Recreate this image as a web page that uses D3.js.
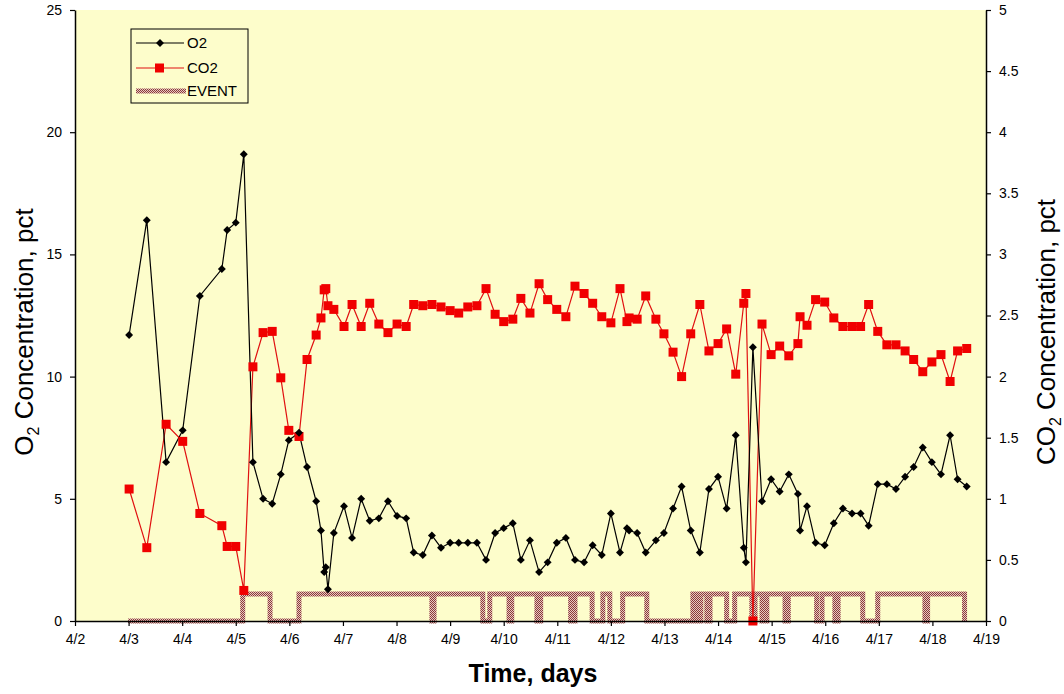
<!DOCTYPE html>
<html>
<head>
<meta charset="utf-8">
<script src="https://cdn.jsdelivr.net/npm/d3@7"></script>
<style>
  body { margin: 0; background: #ffffff; }
  svg { display: block; }
  text { font-family: "Liberation Sans", Arial, sans-serif; }
</style>
</head>
<body>
<svg id="chart" width="1064" height="694"></svg>
<script>
// ---------------- DATA ----------------
// time in April day-of-month (fractional)
const times = [3.01,3.34,3.70,4.01,4.33,4.74,4.84,5.00,5.15,5.32,5.51,5.68,5.84,5.99,6.18,6.33,6.50,6.59,6.65,6.68,6.72,6.83,
  7.02,7.17,7.34,7.50,7.67,7.84,8.01,8.18,8.32,8.49,8.66,8.83,9.00,9.16,9.33,9.50,9.67,9.84,10.00,10.17,10.32,10.49,10.66,10.82,
  10.99,11.16,11.33,11.50,11.66,11.83,12.00,12.17,12.30,12.34,12.49,12.65,12.84,12.99,13.16,13.32,13.49,13.66,13.83,14.00,14.16,
  14.33,14.48,14.52,14.65,14.82,14.99,15.15,15.32,15.49,15.53,15.66,15.82,15.99,16.16,16.33,16.50,16.66,16.81,16.98,17.15,17.32,
  17.49,17.65,17.82,17.99,18.16,18.33,18.47,18.64];
const o2 = [11.7,16.4,6.5,7.8,13.3,14.4,16.0,16.3,19.1,6.5,5.0,4.8,6.0,7.4,7.7,6.3,4.9,3.7,2.0,2.2,1.3,3.6,
  4.7,3.4,5.0,4.1,4.2,4.9,4.3,4.2,2.8,2.7,3.5,3.0,3.2,3.2,3.2,3.2,2.5,3.6,3.8,4.0,2.5,3.3,2.0,2.4,
  3.2,3.4,2.5,2.4,3.1,2.7,4.4,2.8,3.8,3.7,3.6,2.8,3.3,3.6,4.6,5.5,3.7,2.8,5.4,5.9,4.6,
  7.6,3.0,2.4,11.2,4.9,5.8,5.3,6.0,5.2,3.7,4.7,3.2,3.1,4.0,4.6,4.4,4.4,3.9,5.6,5.6,5.4,
  5.9,6.3,7.1,6.5,6.0,7.6,5.8,5.5];
const co2 = [1.08,0.60,1.61,1.47,0.88,0.78,0.61,0.61,0.25,2.08,2.36,2.37,1.99,1.56,1.51,2.14,2.34,2.48,2.71,2.72,2.58,2.55,
  2.41,2.59,2.41,2.60,2.43,2.36,2.43,2.41,2.59,2.58,2.59,2.57,2.54,2.52,2.57,2.58,2.72,2.51,2.45,2.47,2.64,2.52,2.76,2.63,
  2.55,2.49,2.74,2.68,2.60,2.49,2.44,2.72,2.45,2.48,2.47,2.66,2.47,2.35,2.20,2.00,2.35,2.59,2.21,2.27,2.39,
  2.02,2.60,2.68,0.00,2.43,2.18,2.25,2.17,2.27,2.49,2.42,2.63,2.61,2.48,2.41,2.41,2.41,2.59,2.37,2.26,2.26,
  2.21,2.14,2.04,2.12,2.18,1.96,2.21,2.23];
// EVENT step series: times where state changes, and the state after the change (plotted on O2 axis)
const eventTimes  = [2.99,5.13,5.64,6.18,8.66,8.70,9.61,9.74,10.10,10.15,10.62,10.69,11.25,11.33,11.65,11.85,11.98,12.22,12.67,
  13.53,13.62,13.68,13.79,13.85,14.16,14.31,14.63,14.69,14.82,14.91,15.25,15.31,15.84,15.94,16.18,16.24,16.70,16.98,17.86,17.91,18.60];
const eventValues = [0,1.1,0,1.1,0,1.1,0,1.1,0,1.1,0,1.1,0,1.1,0,1.1,0,1.1,0,
  1.1,0,1.1,0,1.1,0,1.1,0,1.1,0,1.1,0,1.1,0,1.1,0,1.1,0,1.1,0,1.1,0];
const xTickDays   = [2,3,4,5,6,7,8,9,10,11,12,13,14,15,16,17,18,19];
const xTickLabels = ["4/2","4/3","4/4","4/5","4/6","4/7","4/8","4/9","4/10","4/11","4/12","4/13","4/14","4/15","4/16","4/17","4/18","4/19"];
const yLeftTicks  = [0,5,10,15,20,25];
const yRightTicks = [0,0.5,1,1.5,2,2.5,3,3.5,4,4.5,5];
const legendItems = ["O2", "CO2", "EVENT"];

// ---------------- LAYOUT ----------------
const svg = d3.select("#chart");
const L = 75, R = 986, T = 10, B = 621;

const x = d3.scaleLinear().domain([2, 19]).range([L, R]);
const yL = d3.scaleLinear().domain([0, 25]).range([B, T]);
const yR = d3.scaleLinear().domain([0, 5]).range([B, T]);

// pattern for event line
const defs = svg.append("defs");
const pat = defs.append("pattern").attr("id", "evpat").attr("patternUnits", "userSpaceOnUse")
  .attr("width", 2).attr("height", 2);
pat.append("rect").attr("width", 2).attr("height", 2).attr("fill", "#e8c8c0");
pat.append("rect").attr("width", 1).attr("height", 1).attr("fill", "#8a3a3a");
pat.append("rect").attr("x", 1).attr("y", 1).attr("width", 1).attr("height", 1).attr("fill", "#8a3a3a");

// plot background
svg.append("rect").attr("x", L).attr("y", T).attr("width", R - L).attr("height", B - T)
  .attr("fill", "#fdfdcb");

// Event line
const evData = eventTimes.map((t, i) => ({t, v: eventValues[i]}));
svg.append("path").datum(evData)
  .attr("d", d3.line().x(d => x(d.t)).y(d => yL(d.v)).curve(d3.curveStepAfter))
  .attr("fill", "none").attr("stroke", "url(#evpat)").attr("stroke-width", 5);

// Series
const o2Data = times.map((t, i) => ({t, v: o2[i]}));
const co2Data = times.map((t, i) => ({t, v: co2[i]}));

svg.append("path").datum(co2Data)
  .attr("d", d3.line().x(d => x(d.t)).y(d => yR(d.v)))
  .attr("fill", "none").attr("stroke", "#e01010").attr("stroke-width", 1.2);
svg.append("path").datum(o2Data)
  .attr("d", d3.line().x(d => x(d.t)).y(d => yL(d.v)))
  .attr("fill", "none").attr("stroke", "#000").attr("stroke-width", 1.2);

svg.append("g").selectAll("rect").data(co2Data).join("rect")
  .attr("x", d => x(d.t) - 4.5).attr("y", d => yR(d.v) - 4.5)
  .attr("width", 9).attr("height", 9).attr("fill", "#f00000");

const diamond = d3.symbol().type(d3.symbolDiamond2).size(40);
svg.append("g").selectAll("path").data(o2Data).join("path")
  .attr("transform", d => `translate(${x(d.t)},${yL(d.v)})`)
  .attr("d", diamond).attr("fill", "#000");

// Axes
const axX = d3.axisBottom(x).tickValues(xTickDays).tickFormat((d, i) => xTickLabels[i]).tickSize(5).tickPadding(8).tickSizeOuter(0);
const axL = d3.axisLeft(yL).tickValues(yLeftTicks).tickFormat(d3.format("d")).tickSize(5).tickPadding(8).tickSizeOuter(0);
const axR = d3.axisRight(yR).tickValues(yRightTicks).tickFormat(d => String(d)).tickSize(5).tickPadding(8).tickSizeOuter(0);

function styleAxis(g) {
  g.selectAll("path.domain").attr("stroke", "#000").attr("stroke-width", 1.5);
  g.selectAll("line").attr("stroke", "#000").attr("stroke-width", 1.2);
  g.selectAll("text").attr("font-size", 14).attr("fill", "#000")
    .attr("font-family", "'Liberation Sans', Arial, sans-serif");
}
svg.append("g").attr("transform", `translate(0,${B})`).call(axX).call(styleAxis);
svg.append("g").attr("transform", `translate(${L},0)`).call(axL).call(styleAxis);
svg.append("g").attr("transform", `translate(${R},0)`).call(axR).call(styleAxis);

// Axis titles
svg.append("text").attr("x", 533).attr("y", 682).attr("text-anchor", "middle")
  .attr("font-size", 25).attr("font-weight", "bold").text("Time, days");

const lt = svg.append("text").attr("transform", `translate(33,332) rotate(-90)`)
  .attr("text-anchor", "middle").attr("font-size", 26);
lt.append("tspan").text("O");
lt.append("tspan").attr("font-size", 16).attr("dy", 6).text("2");
lt.append("tspan").attr("dy", -6).text(" Concentration, pct");

const rt = svg.append("text").attr("transform", `translate(1055,332) rotate(-90)`)
  .attr("text-anchor", "middle").attr("font-size", 26);
rt.append("tspan").text("CO");
rt.append("tspan").attr("font-size", 16).attr("dy", 6).text("2");
rt.append("tspan").attr("dy", -6).text(" Concentration, pct");

// Legend
const lg = svg.append("g");
lg.append("rect").attr("x", 131).attr("y", 29).attr("width", 117).attr("height", 74)
  .attr("fill", "#fdfdcb").attr("stroke", "#000").attr("stroke-width", 1);
const ly = [43, 68, 91];
lg.append("line").attr("x1", 136).attr("x2", 184).attr("y1", ly[0]).attr("y2", ly[0]).attr("stroke", "#000").attr("stroke-width", 1.2);
lg.append("path").attr("transform", `translate(160,${ly[0]})`).attr("d", diamond).attr("fill", "#000");
lg.append("line").attr("x1", 136).attr("x2", 184).attr("y1", ly[1]).attr("y2", ly[1]).attr("stroke", "#e01010").attr("stroke-width", 1.2);
lg.append("rect").attr("x", 155).attr("y", ly[1] - 4.5).attr("width", 9).attr("height", 9).attr("fill", "#f00000");
lg.append("line").attr("x1", 136).attr("x2", 186).attr("y1", ly[2]).attr("y2", ly[2]).attr("stroke", "url(#evpat)").attr("stroke-width", 5);
legendItems.forEach((s, i) => {
  lg.append("text").attr("x", 187).attr("y", ly[i] + 5).attr("font-size", 15).text(s);
});
</script>
</body>
</html>
